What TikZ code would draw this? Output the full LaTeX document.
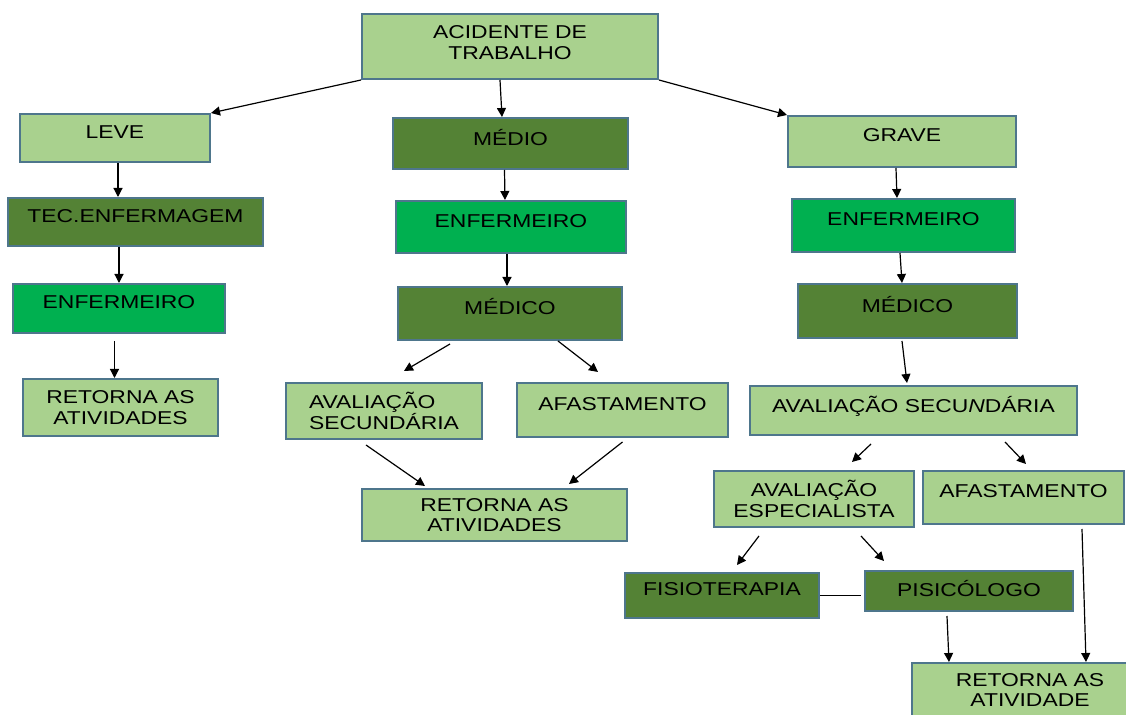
\documentclass[tikz,border=0pt]{standalone}
\usepackage{fontspec}
\setmainfont[FakeStretch=1.23]{Liberation Sans}
\usetikzlibrary{arrows.meta}
\definecolor{verdeclaro}{HTML}{A9D18E}
\definecolor{verdeescuro}{HTML}{548235}
\definecolor{verdevivo}{HTML}{00B050}
\definecolor{borda}{RGB}{78,118,140}

\begin{document}
\begin{tikzpicture}[x=0.5pt,y=-0.5pt,
    box/.style={draw=borda,line width=1pt,inner sep=2pt,align=center,text=black,font=\fontsize{9.3}{10.3}\selectfont},
    claro/.style={box,fill=verdeclaro},
    escuro/.style={box,fill=verdeescuro},
    vivo/.style={box,fill=verdevivo},
    alto/.style={text depth=#1}, alto/.default=6pt,
    seta/.style={-{Triangle[length=4.5pt,width=4.5pt]},line width=0.6pt}]
  \useasboundingbox (0,0) rectangle (1126,715);
  \fill[white] (0,0) rectangle (1126,715);
  \clip (0,0) rectangle (1126,715);

  % topo
  \node[claro,alto=4pt,minimum width=148pt,minimum height=32.5pt] (acid) at (510,46.5) {ACIDENTE DE\\TRABALHO};

  % leve
  \node[claro,alto,minimum width=95pt,minimum height=24pt] (leve) at (115,138) {LEVE};
  \node[escuro,alto,minimum width=127.5pt,minimum height=24pt] (tec) at (135.5,222) {TEC.ENFERMAGEM};
  \node[vivo,alto,minimum width=106pt,minimum height=24.5pt] (enfL) at (119,308.5) {ENFERMEIRO};
  \node[claro,minimum width=97.5pt,minimum height=28.5pt] (retL) at (120.5,407.5) {RETORNA AS\\ATIVIDADES};

  % medio
  \node[escuro,alto,minimum width=117.5pt,minimum height=25.5pt] (medio) at (510.5,143.5) {MÉDIO};
  \node[vivo,alto,minimum width=115pt,minimum height=26pt] (enfM) at (511,227) {ENFERMEIRO};
  \node[escuro,alto=7pt,minimum width=112pt,minimum height=26.5pt] (medM) at (510,313.5) {MÉDICO};
  \node[claro,align=left,minimum width=98pt,minimum height=28pt] (avsM) at (384,411) {AVALIAÇÃO\\SECUNDÁRIA};
  \node[claro,alto,minimum width=105.5pt,minimum height=27pt] (afM) at (622.5,410) {AFASTAMENTO};
  \node[claro,minimum width=132.5pt,minimum height=26pt] (retM) at (494.5,515) {RETORNA AS\\ATIVIDADES};

  % grave
  \node[claro,alto,minimum width=114pt,minimum height=25.5pt] (grave) at (902,141.5) {GRAVE};
  \node[vivo,alto,minimum width=111.5pt,minimum height=26.5pt] (enfR) at (903.5,225.5) {ENFERMEIRO};
  \node[escuro,alto=7pt,minimum width=109.5pt,minimum height=27pt] (medR) at (907.5,311) {MÉDICO};
  \node[claro,alto,minimum width=163.5pt,minimum height=24.5pt] (avsR) at (913.5,410.5) {AVALIAÇÃO SECU\textit{N}DÁRIA};
  \node[claro,minimum width=100pt,minimum height=28pt] (espec) at (814,499) {AVALIAÇÃO\\ESPECIALISTA};
  \node[claro,alto,minimum width=100.5pt,minimum height=26.5pt] (afR) at (1023.5,497.5) {AFASTAMENTO};
  \node[escuro,alto,minimum width=97pt,minimum height=22.5pt] (fisio) at (722,595.5) {FISIOTERAPIA};
  \node[escuro,alto=3pt,minimum width=104pt,minimum height=20pt] (pisi) at (969,591) {PISICÓLOGO};
  \node[claro,minimum width=118pt,minimum height=27pt] (retR) at (1030,690) {RETORNA AS\\ATIVIDADE};

  % setas
  \draw[seta] (acid.south west) -- (leve.north east);
  \draw[seta] ([xshift=-5pt]acid.south) -- ([xshift=-4.25pt]medio.north);
  \draw[seta] (acid.south east) -- (grave.north west);

  \draw[seta] ([xshift=1.5pt]leve.south) -- ([xshift=1.5pt]leve.south |- tec.north);
  \draw[seta] (enfL.north |- tec.south) -- (enfL.north);
  \draw[seta,shorten <=3.5pt] ([xshift=-3pt]retL.north |- enfL.south) -- ([xshift=-3pt]retL.north);

  \draw[seta] ([xshift=-3pt]medio.south) -- ([xshift=-3pt]enfM.north);
  \draw[seta] ([xshift=-2pt]enfM.south) -- ([xshift=-1.5pt]medM.north);
  \draw[seta] ([xshift=-30pt,yshift=-1.5pt]medM.south) -- ([xshift=10pt,yshift=5.5pt]avsM.north);
  \draw[seta] ([xshift=24pt]medM.south) -- ([xshift=-12.25pt,yshift=5pt]afM.north);
  \draw[seta] ([xshift=-9pt,yshift=-2.5pt]avsM.south) -- ([xshift=-34.75pt,yshift=1pt]retM.north);
  \draw[seta] ([yshift=-2pt]afM.south) -- ([xshift=37.25pt,yshift=2pt]retM.north);

  \draw[seta] ([xshift=-3pt]grave.south) -- ([xshift=-3.25pt]enfR.north);
  \draw[seta] ([xshift=-1.75pt]enfR.south) -- ([xshift=-2.75pt]medR.north);
  \draw[seta] ([xshift=-2.75pt,yshift=-1pt]medR.south) -- ([xshift=-3.25pt,yshift=1pt]avsR.north);
  \draw[seta] ([xshift=-21.25pt,yshift=-4pt]avsR.south) -- ([xshift=19pt,yshift=4pt]espec.north);
  \draw[seta] ([xshift=45.75pt,yshift=-3pt]avsR.south) -- ([xshift=1.25pt,yshift=3pt]afR.north);
  \draw[seta] ([xshift=-27.5pt,yshift=-4pt]espec.south) -- ([xshift=7.5pt,yshift=3.5pt]fisio.north);
  \draw[seta] ([xshift=23.5pt,yshift=-4pt]espec.south) -- ([xshift=-42.5pt,yshift=4.5pt]pisi.north);
  \draw[line width=0.6pt,shorten >=1.5pt] (fisio.east) -- (fisio.east -| pisi.west);
  \draw[seta] ([xshift=-11pt,yshift=-2pt]pisi.south) -- ([xshift=-40.5pt]retR.north);
  \draw[seta] ([xshift=29.25pt,yshift=-2pt]afR.south) -- ([xshift=28pt]retR.north);
\end{tikzpicture}
\end{document}
